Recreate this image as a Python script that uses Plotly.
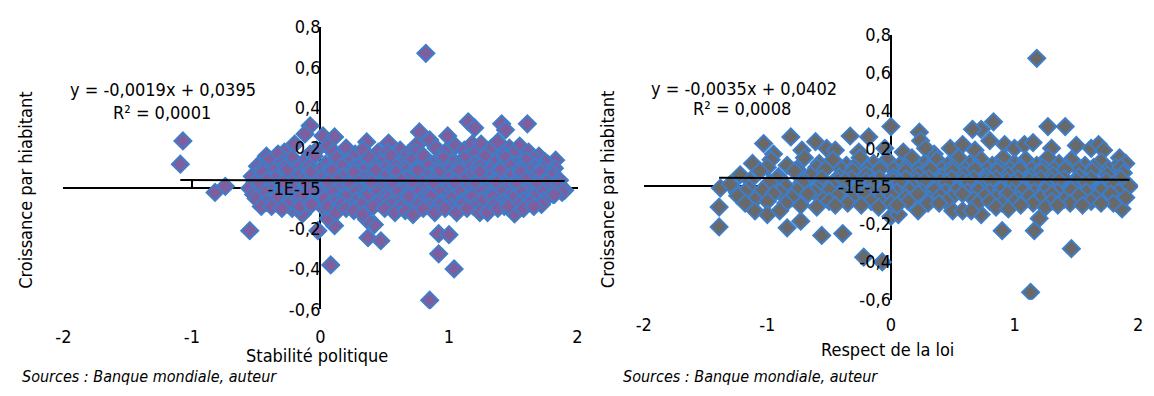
import plotly.graph_objects as go

# Stabilité politique vs croissance par habitant
stab_points = [
    # isolated observations
    (0.82, 0.67), (-1.07, 0.235), (-1.09, 0.12), (-0.08, 0.31), (1.15, 0.33), (1.2, 0.30),
    (1.41, 0.32), (1.44, 0.29), (1.61, 0.32), (1.83, 0.14), (0.77, 0.28), (0.99, 0.26),
    (0.02, 0.26), (0.11, 0.255), (0.36, 0.23), (0.53, 0.225), (0.75, 0.215), (-0.82, -0.02),
    (-0.74, 0.01), (-0.55, -0.21), (-0.02, -0.21), (0.11, -0.185), (0.08, -0.38), (0.37, -0.245),
    (0.47, -0.26), (0.42, -0.18), (0.36, -0.155), (0.92, -0.225), (1.0, -0.23), (0.92, -0.325),
    (1.04, -0.40), (0.85, -0.555), (1.51, -0.127), (-0.22, -0.10), (-0.14, -0.127), (0.03, -0.1),
    (0.06, -0.15),
    # upper part of the cloud
    (-0.28, 0.18), (-0.2, 0.22), (-0.12, 0.27), (-0.03, 0.19), (0.06, 0.21), (0.2, 0.2),
    (0.27, 0.17), (0.45, 0.18), (0.62, 0.19), (0.68, 0.17), (0.85, 0.24), (0.9, 0.2),
    (1.05, 0.21), (1.12, 0.19), (1.18, 0.22), (1.25, 0.22), (1.33, 0.2), (1.38, 0.23),
    (1.47, 0.2), (1.55, 0.21), (1.62, 0.18), (1.7, 0.16), (1.77, 0.12),
    (-0.42, 0.16), (-0.33, 0.17), (-0.08, 0.17), (0.1, 0.18), (0.33, 0.19), (0.52, 0.18),
    (0.74, 0.18), (0.97, 0.18), (1.2, 0.17), (1.43, 0.17), (1.5, 0.17), (1.66, 0.15),
    (-0.49, 0.11), (-0.4, 0.14), (-0.31, 0.12), (-0.22, 0.15), (-0.13, 0.13), (-0.05, 0.16),
    (0.04, 0.12), (0.13, 0.15), (0.22, 0.13), (0.3, 0.11), (0.38, 0.15), (0.47, 0.13),
    (0.55, 0.16), (0.63, 0.12), (0.71, 0.14), (0.8, 0.16), (0.88, 0.12), (0.96, 0.15),
    (1.04, 0.13), (1.12, 0.15), (1.2, 0.12), (1.28, 0.16), (1.36, 0.13), (1.44, 0.15),
    (1.52, 0.12), (1.6, 0.14), (1.67, 0.11), (1.75, 0.13), (1.82, 0.1),
    (-0.45, 0.1), (-0.36, 0.09), (-0.27, 0.11), (-0.17, 0.1), (-0.09, 0.11), (0.0, 0.09),
    (0.08, 0.1), (0.17, 0.11), (0.26, 0.1), (0.34, 0.09), (0.43, 0.11), (0.51, 0.1),
    (0.59, 0.11), (0.67, 0.09), (0.75, 0.1), (0.84, 0.11), (0.92, 0.1), (1.0, 0.09),
    (1.08, 0.11), (1.16, 0.1), (1.24, 0.11), (1.32, 0.09), (1.4, 0.1), (1.48, 0.11),
    (1.56, 0.1), (1.64, 0.09), (1.72, 0.1), (1.8, 0.08),
    (-0.53, 0.06), (-0.45, 0.08), (-0.35, 0.05), (-0.26, 0.09), (-0.17, 0.06), (-0.08, 0.08),
    (0.01, 0.05), (0.09, 0.09), (0.18, 0.06), (0.26, 0.08), (0.34, 0.05), (0.43, 0.09),
    (0.51, 0.06), (0.59, 0.08), (0.67, 0.05), (0.76, 0.09), (0.84, 0.06), (0.92, 0.08),
    (1.0, 0.05), (1.08, 0.09), (1.16, 0.06), (1.24, 0.08), (1.32, 0.05), (1.4, 0.09),
    (1.48, 0.06), (1.56, 0.08), (1.64, 0.05), (1.71, 0.08), (1.79, 0.06), (1.86, 0.04),
    (-0.51, 0.03), (-0.42, 0.04), (-0.31, 0.02), (-0.22, 0.03), (-0.13, 0.04), (-0.04, 0.02),
    (0.05, 0.03), (0.13, 0.04), (0.22, 0.02), (0.3, 0.03), (0.38, 0.04), (0.47, 0.02),
    (0.55, 0.03), (0.63, 0.04), (0.71, 0.02), (0.8, 0.03), (0.88, 0.04), (0.96, 0.02),
    (1.04, 0.03), (1.12, 0.04), (1.2, 0.02), (1.28, 0.03), (1.36, 0.04), (1.44, 0.02),
    (1.52, 0.03), (1.6, 0.04), (1.68, 0.02), (1.76, 0.03), (1.84, 0.01),
    # lower part of the cloud
    (-0.55, 0.0), (-0.47, 0.02), (-0.38, -0.01), (-0.29, 0.03), (-0.2, 0.0), (-0.11, 0.02),
    (-0.02, -0.01), (0.06, 0.03), (0.15, 0.0), (0.23, 0.02), (0.31, -0.01), (0.4, 0.03),
    (0.48, 0.0), (0.56, 0.02), (0.64, -0.01), (0.72, 0.03), (0.8, 0.0), (0.88, 0.02),
    (0.97, -0.01), (1.05, 0.03), (1.13, 0.0), (1.21, 0.02), (1.29, -0.01), (1.37, 0.03),
    (1.45, 0.0), (1.53, 0.02), (1.61, -0.01), (1.69, 0.02), (1.77, 0.0), (1.85, 0.02), (1.9, -0.01),
    (-0.52, -0.03), (-0.43, -0.02), (-0.34, -0.03), (-0.25, -0.02), (-0.16, -0.03), (-0.07, -0.02),
    (0.02, -0.03), (0.1, -0.02), (0.19, -0.03), (0.27, -0.02), (0.35, -0.03), (0.44, -0.02),
    (0.52, -0.03), (0.6, -0.02), (0.68, -0.03), (0.76, -0.02), (0.84, -0.03), (0.93, -0.02),
    (1.01, -0.03), (1.09, -0.02), (1.17, -0.03), (1.25, -0.02), (1.33, -0.03), (1.41, -0.02),
    (1.49, -0.03), (1.57, -0.02), (1.65, -0.03), (1.73, -0.02), (1.81, -0.03), (1.88, -0.02),
    (-0.5, -0.05), (-0.42, -0.07), (-0.33, -0.04), (-0.24, -0.06), (-0.15, -0.04), (-0.06, -0.07),
    (0.03, -0.05), (0.11, -0.07), (0.2, -0.04), (0.28, -0.06), (0.36, -0.04), (0.45, -0.07),
    (0.53, -0.05), (0.61, -0.07), (0.69, -0.04), (0.78, -0.06), (0.86, -0.04), (0.94, -0.07),
    (1.02, -0.05), (1.1, -0.07), (1.18, -0.04), (1.26, -0.06), (1.34, -0.04), (1.42, -0.07),
    (1.5, -0.05), (1.58, -0.06), (1.66, -0.04), (1.74, -0.06), (1.82, -0.03),
    (-0.46, -0.09), (-0.25, -0.08), (-0.16, -0.09), (-0.07, -0.08), (0.06, -0.09), (0.16, -0.08),
    (0.24, -0.09), (0.32, -0.08), (0.41, -0.09), (0.55, -0.08), (0.63, -0.09), (0.76, -0.08),
    (0.85, -0.09), (0.93, -0.08), (1.01, -0.09), (1.1, -0.08), (1.19, -0.09), (1.35, -0.08),
    (1.43, -0.09), (1.55, -0.08), (1.63, -0.07), (1.72, -0.08),
    (-0.38, -0.09), (-0.3, -0.1), (0.12, -0.12), (0.2, -0.1), (0.26, -0.11), (0.33, -0.13),
    (0.5, -0.1), (0.58, -0.12), (0.66, -0.11), (0.72, -0.13), (0.8, -0.1), (0.89, -0.12),
    (0.97, -0.1), (1.06, -0.12), (1.14, -0.1), (1.24, -0.12), (1.3, -0.12), (1.38, -0.1),
    (1.46, -0.09), (1.58, -0.1), (1.66, -0.09),
]

# Respect de la loi vs croissance par habitant
loi_points = [
    # isolated observations
    (1.18, 0.675), (0.0, 0.315), (0.83, 0.34), (0.73, 0.30), (0.66, 0.30), (1.27, 0.315),
    (1.41, 0.315), (-1.03, 0.225), (-0.81, 0.26), (-0.61, 0.235), (-0.33, 0.265), (-0.18, 0.26),
    (0.23, 0.285), (1.5, 0.215), (1.85, 0.15), (-1.38, -0.01), (-1.24, -0.035), (-1.39, -0.11),
    (-1.39, -0.215), (-0.84, -0.22), (-0.73, -0.185), (-0.56, -0.26), (-0.39, -0.25),
    (-0.22, -0.375), (-0.07, -0.40), (0.0, -0.16), (0.06, -0.15), (0.22, -0.13), (0.73, -0.15),
    (0.9, -0.235), (1.16, -0.235), (1.2, -0.17), (1.46, -0.33), (1.13, -0.56), (1.87, -0.12),
    # upper part of the cloud
    (-0.95, 0.17), (-0.72, 0.19), (-0.52, 0.2), (-0.45, 0.19), (-0.26, 0.18), (-0.05, 0.2),
    (0.1, 0.18), (0.24, 0.24), (0.35, 0.17), (0.48, 0.2), (0.58, 0.22), (0.8, 0.24),
    (0.92, 0.22), (1.0, 0.2), (1.08, 0.22), (1.15, 0.23), (1.3, 0.2), (1.62, 0.2),
    (1.68, 0.22), (1.72, 0.19), (0.28, 0.2), (0.68, 0.19),
    (-1.12, 0.12), (-0.97, 0.14), (-0.84, 0.11), (-0.7, 0.15), (-0.58, 0.12), (-0.47, 0.14),
    (-0.36, 0.11), (-0.25, 0.15), (-0.14, 0.12), (-0.03, 0.14), (0.07, 0.11), (0.17, 0.15),
    (0.27, 0.12), (0.37, 0.14), (0.46, 0.11), (0.55, 0.15), (0.64, 0.12), (0.73, 0.14),
    (0.82, 0.11), (0.91, 0.15), (1.0, 0.12), (1.09, 0.14), (1.18, 0.11), (1.27, 0.15),
    (1.36, 0.12), (1.46, 0.14), (1.57, 0.11), (1.7, 0.13), (1.82, 0.1), (1.9, 0.12),
    (-1.0, 0.1), (-0.76, 0.09), (-0.6, 0.1), (-0.4, 0.09), (-0.3, 0.1), (-0.19, 0.09),
    (-0.08, 0.1), (0.02, 0.09), (0.12, 0.1), (0.22, 0.09), (0.31, 0.1), (0.41, 0.09),
    (0.5, 0.1), (0.6, 0.09), (0.69, 0.1), (0.78, 0.09), (0.87, 0.1), (0.96, 0.09),
    (1.05, 0.1), (1.14, 0.09), (1.23, 0.1), (1.32, 0.09), (1.42, 0.1), (1.52, 0.09),
    (1.64, 0.1), (1.76, 0.09), (1.86, 0.1),
    (-1.22, 0.06), (-1.06, 0.08), (-0.91, 0.05), (-0.78, 0.08), (-0.65, 0.06), (-0.53, 0.09),
    (-0.42, 0.05), (-0.31, 0.08), (-0.2, 0.06), (-0.09, 0.09), (0.02, 0.05), (0.12, 0.08),
    (0.22, 0.06), (0.32, 0.09), (0.41, 0.05), (0.5, 0.08), (0.59, 0.06), (0.68, 0.09),
    (0.77, 0.05), (0.86, 0.08), (0.95, 0.06), (1.04, 0.09), (1.13, 0.05), (1.22, 0.08),
    (1.31, 0.06), (1.41, 0.09), (1.52, 0.05), (1.63, 0.08), (1.75, 0.06), (1.88, 0.07),
    (-1.14, 0.03), (-0.92, 0.04), (-0.7, 0.03), (-0.56, 0.04), (-0.43, 0.03), (-0.32, 0.04),
    (-0.2, 0.03), (-0.09, 0.04), (0.02, 0.03), (0.12, 0.04), (0.21, 0.03), (0.31, 0.04),
    (0.4, 0.03), (0.49, 0.04), (0.58, 0.03), (0.67, 0.04), (0.76, 0.03), (0.85, 0.04),
    (0.94, 0.03), (1.03, 0.04), (1.12, 0.03), (1.21, 0.04), (1.3, 0.03), (1.4, 0.04),
    (1.5, 0.03), (1.62, 0.04), (1.74, 0.03), (1.86, 0.04),
    # lower part of the cloud
    (-1.3, 0.01), (-1.15, -0.01), (-0.98, 0.02), (-0.85, 0.0), (-0.72, 0.02), (-0.6, -0.01),
    (-0.48, 0.01), (-0.37, 0.03), (-0.26, 0.0), (-0.15, 0.02), (-0.04, -0.01), (0.07, 0.02),
    (0.17, 0.0), (0.27, 0.03), (0.36, 0.0), (0.45, 0.02), (0.54, -0.01), (0.63, 0.02),
    (0.72, 0.0), (0.81, 0.03), (0.9, 0.0), (0.99, 0.02), (1.08, -0.01), (1.17, 0.02),
    (1.26, 0.0), (1.36, 0.03), (1.47, 0.0), (1.58, 0.02), (1.7, -0.01), (1.8, 0.01), (1.93, 0.0),
    (-1.18, -0.03), (-1.04, -0.02), (-0.9, -0.03), (-0.76, -0.02), (-0.62, -0.03), (-0.5, -0.02),
    (-0.39, -0.03), (-0.28, -0.02), (-0.17, -0.03), (-0.06, -0.02), (0.05, -0.03), (0.15, -0.02),
    (0.25, -0.03), (0.35, -0.02), (0.44, -0.03), (0.53, -0.02), (0.62, -0.03), (0.71, -0.02),
    (0.8, -0.03), (0.89, -0.02), (0.98, -0.03), (1.07, -0.02), (1.16, -0.03), (1.25, -0.02),
    (1.35, -0.03), (1.46, -0.02), (1.58, -0.03), (1.7, -0.02), (1.84, -0.03),
    (-1.24, -0.05), (-1.1, -0.07), (-0.95, -0.04), (-0.8, -0.06), (-0.67, -0.04), (-0.55, -0.07),
    (-0.43, -0.05), (-0.32, -0.06), (-0.21, -0.04), (-0.1, -0.07), (0.01, -0.05), (0.12, -0.06),
    (0.22, -0.04), (0.31, -0.07), (0.4, -0.05), (0.49, -0.06), (0.58, -0.04), (0.67, -0.07),
    (0.76, -0.05), (0.85, -0.06), (0.94, -0.04), (1.03, -0.07), (1.12, -0.05), (1.21, -0.06),
    (1.3, -0.04), (1.4, -0.07), (1.52, -0.05), (1.65, -0.06), (1.78, -0.04), (1.9, -0.06),
    (-1.18, -0.09), (-1.0, -0.08), (-0.85, -0.09), (-0.5, -0.08), (-0.35, -0.09), (-0.16, -0.08),
    (0.0, -0.09), (0.14, -0.08), (0.3, -0.09), (0.45, -0.08), (0.7, -0.09), (0.8, -0.08),
    (0.9, -0.09), (1.0, -0.08), (1.15, -0.09), (1.3, -0.08), (1.45, -0.09), (1.62, -0.08),
    (1.8, -0.09),
    (-1.1, -0.13), (-1.0, -0.15), (-0.9, -0.13), (-0.73, -0.1), (-0.6, -0.11), (-0.45, -0.1),
    (-0.24, -0.1), (-0.1, -0.11), (0.05, -0.1), (0.39, -0.09), (0.5, -0.13), (0.58, -0.13),
    (0.65, -0.13), (0.85, -0.11), (0.95, -0.12), (1.05, -0.1), (1.25, -0.11), (1.35, -0.1),
    (1.55, -0.1), (1.7, -0.09),
]

# Linear trend equations shown on each chart
stab_slope, stab_intercept, stab_r2 = -0.0019, 0.0395, 0.0001
loi_slope, loi_intercept, loi_r2 = -0.0035, 0.0402, 0.0008

x_ticks = [-2, -1, 0, 1, 2]
x_tick_text = ["-2", "-1", "0", "1", "2"]
y_ticks = [-0.6, -0.4, -0.2, 0, 0.2, 0.4, 0.6, 0.8]
y_tick_text = ["-0,6", "-0,4", "-0,2", "-1E-15", "0,2", "0,4", "0,6", "0,8"]

FONT = "DejaVu Sans Condensed, DejaVu Sans"
BORDER = "#3E7DC8"
W, H = 1154, 396


def fr(v):
    return f"{v:.4f}".replace(".", ",")


def equation(slope, intercept):
    return f"y = {fr(slope)}x + {fr(intercept)}"


stab_x = [p[0] for p in stab_points]
stab_y = [p[1] for p in stab_points]
loi_x = [p[0] for p in loi_points]
loi_y = [p[1] for p in loi_points]

fig = go.Figure()

fig.add_trace(go.Scatter(
    x=stab_x, y=stab_y, mode="markers", xaxis="x", yaxis="y",
    marker=dict(symbol="diamond", size=13, color="#7D5FA0", line=dict(color=BORDER, width=2)),
    showlegend=False, hoverinfo="skip"))
sx = [min(stab_x), max(stab_x)]
fig.add_trace(go.Scatter(
    x=sx, y=[stab_slope * v + stab_intercept for v in sx], mode="lines",
    xaxis="x", yaxis="y", line=dict(color="black", width=2), showlegend=False, hoverinfo="skip"))

fig.add_trace(go.Scatter(
    x=loi_x, y=loi_y, mode="markers", xaxis="x2", yaxis="y2",
    marker=dict(symbol="diamond", size=13, color="#696969", line=dict(color=BORDER, width=2)),
    showlegend=False, hoverinfo="skip"))
lx = [min(loi_x), max(loi_x)]
fig.add_trace(go.Scatter(
    x=lx, y=[loi_slope * v + loi_intercept for v in lx], mode="lines",
    xaxis="x2", yaxis="y2", line=dict(color="black", width=2), showlegend=False, hoverinfo="skip"))

# empty traces so the label axes (overlaid on each plot) get drawn
for xa, ya in (("x3", "y3"), ("x4", "y4")):
    fig.add_trace(go.Scatter(x=[None], y=[None], xaxis=xa, yaxis=ya, mode="markers",
                             showlegend=False, hoverinfo="skip"))

# plot areas in pixels: (left, right, top, bottom)
L = (56, 576, 17, 315)
R = (643, 1143, 25, 305)


def px_x(p):
    return p / W


def px_y(p):
    return 1 - p / H


def zero_pos(box, lo=-0.6, hi=0.8):
    top, bottom = box[2], box[3]
    return px_y(bottom - (0 - lo) / (hi - lo) * (bottom - top))


tick_font = dict(family=FONT, size=18, color="black")

# axes carrying the crossing lines (drawn under the markers)
line_x = dict(range=[-2, 2], tickvals=x_ticks, showgrid=False, zeroline=False, showline=True,
              linecolor="black", linewidth=2, ticks="inside", ticklen=6, tickwidth=2,
              tickcolor="black", showticklabels=False, layer="below traces", anchor="free")
line_y = dict(range=[-0.6, 0.8], showgrid=False, zeroline=False, showline=True,
              linecolor="black", linewidth=2, ticks="", showticklabels=False,
              layer="below traces", anchor="free")
# axes carrying the tick labels (drawn over the markers)
label_x = dict(range=[-2, 2], tickvals=x_ticks, ticktext=x_tick_text, showgrid=False,
               zeroline=False, showline=False, ticks="", tickfont=tick_font,
               layer="above traces", anchor="free")
label_y = dict(range=[-0.6, 0.8], tickvals=y_ticks, ticktext=y_tick_text, showgrid=False,
               zeroline=False, showline=False, ticks="", tickfont=tick_font,
               layer="above traces", anchor="free")

fig.update_layout(
    width=W, height=H, margin=dict(l=0, r=0, t=0, b=0),
    paper_bgcolor="white", plot_bgcolor="rgba(0,0,0,0)",
    font=dict(family=FONT, color="black"),
    xaxis=dict(line_x, domain=[px_x(L[0]), px_x(L[1])], position=zero_pos(L)),
    yaxis=dict(line_y, domain=[px_y(L[3]), px_y(L[2])], position=px_x(316)),
    xaxis2=dict(line_x, domain=[px_x(R[0]), px_x(R[1])], position=zero_pos(R)),
    yaxis2=dict(line_y, domain=[px_y(R[3]), px_y(R[2])], position=px_x(893)),
    xaxis3=dict(label_x, overlaying="x", position=px_y(330)),
    yaxis3=dict(label_y, overlaying="y", position=px_x(316)),
    xaxis4=dict(label_x, overlaying="x2", position=px_y(318)),
    yaxis4=dict(label_y, overlaying="y2", position=px_x(893)),
)

label_font = dict(family=FONT, size=18, color="black")
src_font = dict(family=FONT, size=16, color="black", style="italic")


def note(text, x, y, font=label_font, angle=0, xanchor="center"):
    fig.add_annotation(text=text, x=px_x(x), y=px_y(y), xref="paper", yref="paper",
                       showarrow=False, font=font, textangle=angle,
                       xanchor=xanchor, yanchor="middle")


note(equation(stab_slope, stab_intercept), 157, 83)
note(f"R² = {fr(stab_r2)}", 156, 107)
note(equation(loi_slope, loi_intercept), 744, 82)
note(f"R² = {fr(loi_r2)}", 742, 103)

note("Croissance par hiabitant", 18, 189, angle=-90)
note("Croissance par hiabitant", 607, 189, angle=-90)
note("Stabilité politique", 313, 364)
note("Respect de la loi", 890, 357)
note("Sources : Banque mondiale, auteur", 12, 386, font=src_font, xanchor="left")
note("Sources : Banque mondiale, auteur", 620, 386, font=src_font, xanchor="left")

fig.write_html("out.html")
